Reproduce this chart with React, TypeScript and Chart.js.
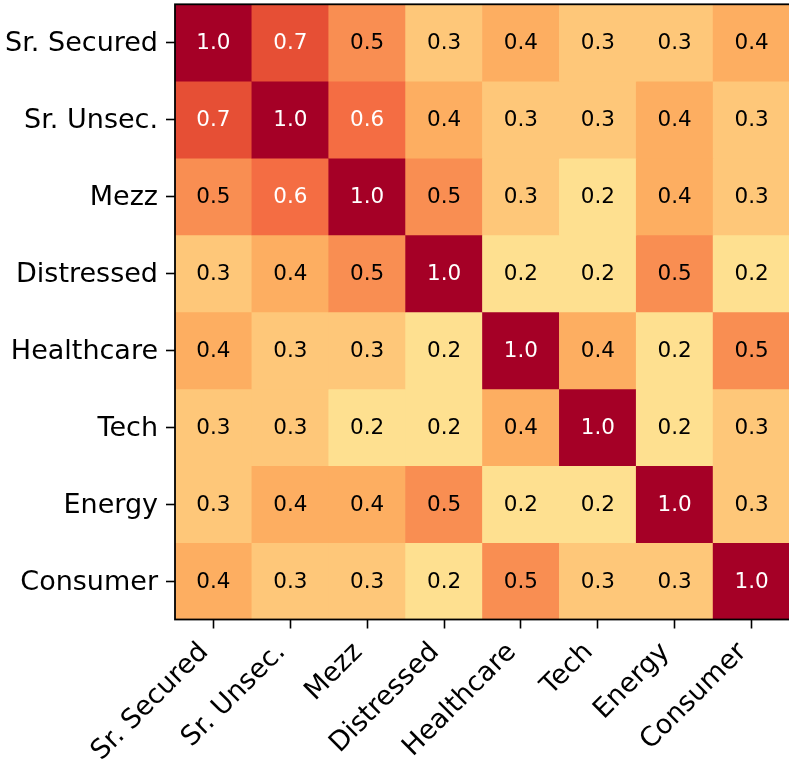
import React, { useEffect, useRef } from "react";
import { Chart, registerables } from "chart.js";

Chart.register(...registerables);

const categories = [
  "Sr. Secured",
  "Sr. Unsec.",
  "Mezz",
  "Distressed",
  "Healthcare",
  "Tech",
  "Energy",
  "Consumer",
];

const rowSrSecured = [1.0, 0.7, 0.5, 0.3, 0.4, 0.3, 0.3, 0.4];
const rowSrUnsec = [0.7, 1.0, 0.6, 0.4, 0.3, 0.3, 0.4, 0.3];
const rowMezz = [0.5, 0.6, 1.0, 0.5, 0.3, 0.2, 0.4, 0.3];
const rowDistressed = [0.3, 0.4, 0.5, 1.0, 0.2, 0.2, 0.5, 0.2];
const rowHealthcare = [0.4, 0.3, 0.3, 0.2, 1.0, 0.4, 0.2, 0.5];
const rowTech = [0.3, 0.3, 0.2, 0.2, 0.4, 1.0, 0.2, 0.3];
const rowEnergy = [0.3, 0.4, 0.4, 0.5, 0.2, 0.2, 1.0, 0.3];
const rowConsumer = [0.4, 0.3, 0.3, 0.2, 0.5, 0.3, 0.3, 1.0];

const matrix = [
  rowSrSecured,
  rowSrUnsec,
  rowMezz,
  rowDistressed,
  rowHealthcare,
  rowTech,
  rowEnergy,
  rowConsumer,
];

// RdYlBu_r colormap anchors, vmin=-1, vmax=1
const cmapStops = [
  "#313695", "#4575b4", "#74add1", "#abd9e9", "#e0f3f8", "#ffffbf",
  "#fee090", "#fdae61", "#f46d43", "#d73027", "#a50026",
];

function hexToRgb(h: string) {
  const n = parseInt(h.slice(1), 16);
  return [(n >> 16) & 255, (n >> 8) & 255, n & 255];
}

function colorFor(v: number) {
  let t = (v + 1) / 2;
  t = Math.max(0, Math.min(1, t));
  const pos = t * (cmapStops.length - 1);
  const i = Math.min(cmapStops.length - 2, Math.floor(pos));
  const f = pos - i;
  const a = hexToRgb(cmapStops[i]);
  const b = hexToRgb(cmapStops[i + 1]);
  const c = a.map((x, k) => Math.round(x + (b[k] - x) * f));
  return `rgb(${c[0]},${c[1]},${c[2]})`;
}

const FONT = "'DejaVu Sans', sans-serif";

const annotatePlugin = {
  id: "annotate",
  afterDatasetsDraw(chart: any) {
    const ctx = chart.ctx;
    ctx.save();
    ctx.font = `21.5px ${FONT}`;
    ctx.textAlign = "center";
    ctx.textBaseline = "middle";
    matrix.forEach((row, r) => {
      const meta = chart.getDatasetMeta(r);
      row.forEach((v, c) => {
        const el: any = meta.data[c];
        if (!el) return;
        const cy = (el.y + el.base) / 2;
        ctx.fillStyle = v >= 0.6 ? "#ffffff" : "#000000";
        ctx.fillText(v.toFixed(1), el.x, cy + 1);
      });
    });
    const a = chart.chartArea;
    ctx.strokeStyle = "#000";
    ctx.lineWidth = 1.8;
    ctx.strokeRect(a.left, a.top, a.right - a.left, a.bottom - a.top);
    ctx.restore();
  },
};

export default function App() {
  const ref = useRef<HTMLCanvasElement | null>(null);

  useEffect(() => {
    if (!ref.current) return;
    const datasets = matrix.map((row, r) => ({
      label: categories[r],
      data: row.map(() => [r - 0.5, r + 0.5]),
      backgroundColor: row.map((v) => colorFor(v)),
      borderWidth: 0,
      barPercentage: 1,
      categoryPercentage: 1,
      grouped: false,
    }));
    const chart = new Chart(ref.current, {
      type: "bar",
      data: { labels: categories, datasets: datasets as any },
      options: {
        animation: false,
        responsive: false,
        devicePixelRatio: 1,
        layout: { padding: { top: 4.3, right: 1, bottom: 0, left: 0 } },
        plugins: {
          legend: { display: false },
          tooltip: { enabled: false },
        },
        scales: {
          x: {
            type: "category",
            offset: true,
            border: { display: false },
            grid: {
              display: true,
              offset: false,
              drawOnChartArea: false,
              drawTicks: true,
              tickLength: 9,
              tickColor: "#000",
              tickWidth: 1.6,
            },
            ticks: {
              autoSkip: false,
              maxRotation: 45,
              minRotation: 45,
              padding: 8,
              labelOffset: -9,
              color: "#000",
              font: { family: FONT, size: 27 },
            },
            afterFit: (s: any) => {
              s.height = 139.5;
              s.paddingLeft = 0;
              s.paddingRight = 0;
            },
          },
          y: {
            type: "linear",
            reverse: true,
            min: -0.5,
            max: 7.5,
            border: { display: false },
            grid: {
              display: true,
              drawOnChartArea: false,
              drawTicks: true,
              tickLength: 9,
              tickColor: "#000",
              tickWidth: 1.6,
            },
            afterBuildTicks: (s: any) => {
              s.ticks = categories.map((_, i) => ({ value: i }));
            },
            ticks: {
              padding: 8,
              labelOffset: 1.5,
              color: "#000",
              font: { family: FONT, size: 27 },
              callback: (v: any) => categories[Math.round(Number(v))] ?? "",
            },
            afterFit: (s: any) => {
              s.width = 175;
              s.paddingTop = 0;
              s.paddingBottom = 0;
            },
          },
        },
      },
      plugins: [annotatePlugin],
    });
    return () => chart.destroy();
  }, []);

  return (
    <div
      style={{
        position: "absolute",
        left: 0,
        top: 0,
        width: 789,
        height: 759,
        overflow: "hidden",
        background: "#fff",
      }}
    >
      <canvas
        ref={ref}
        width={791}
        height={759}
        style={{ display: "block", width: 791, height: 759 }}
      />
    </div>
  );
}
